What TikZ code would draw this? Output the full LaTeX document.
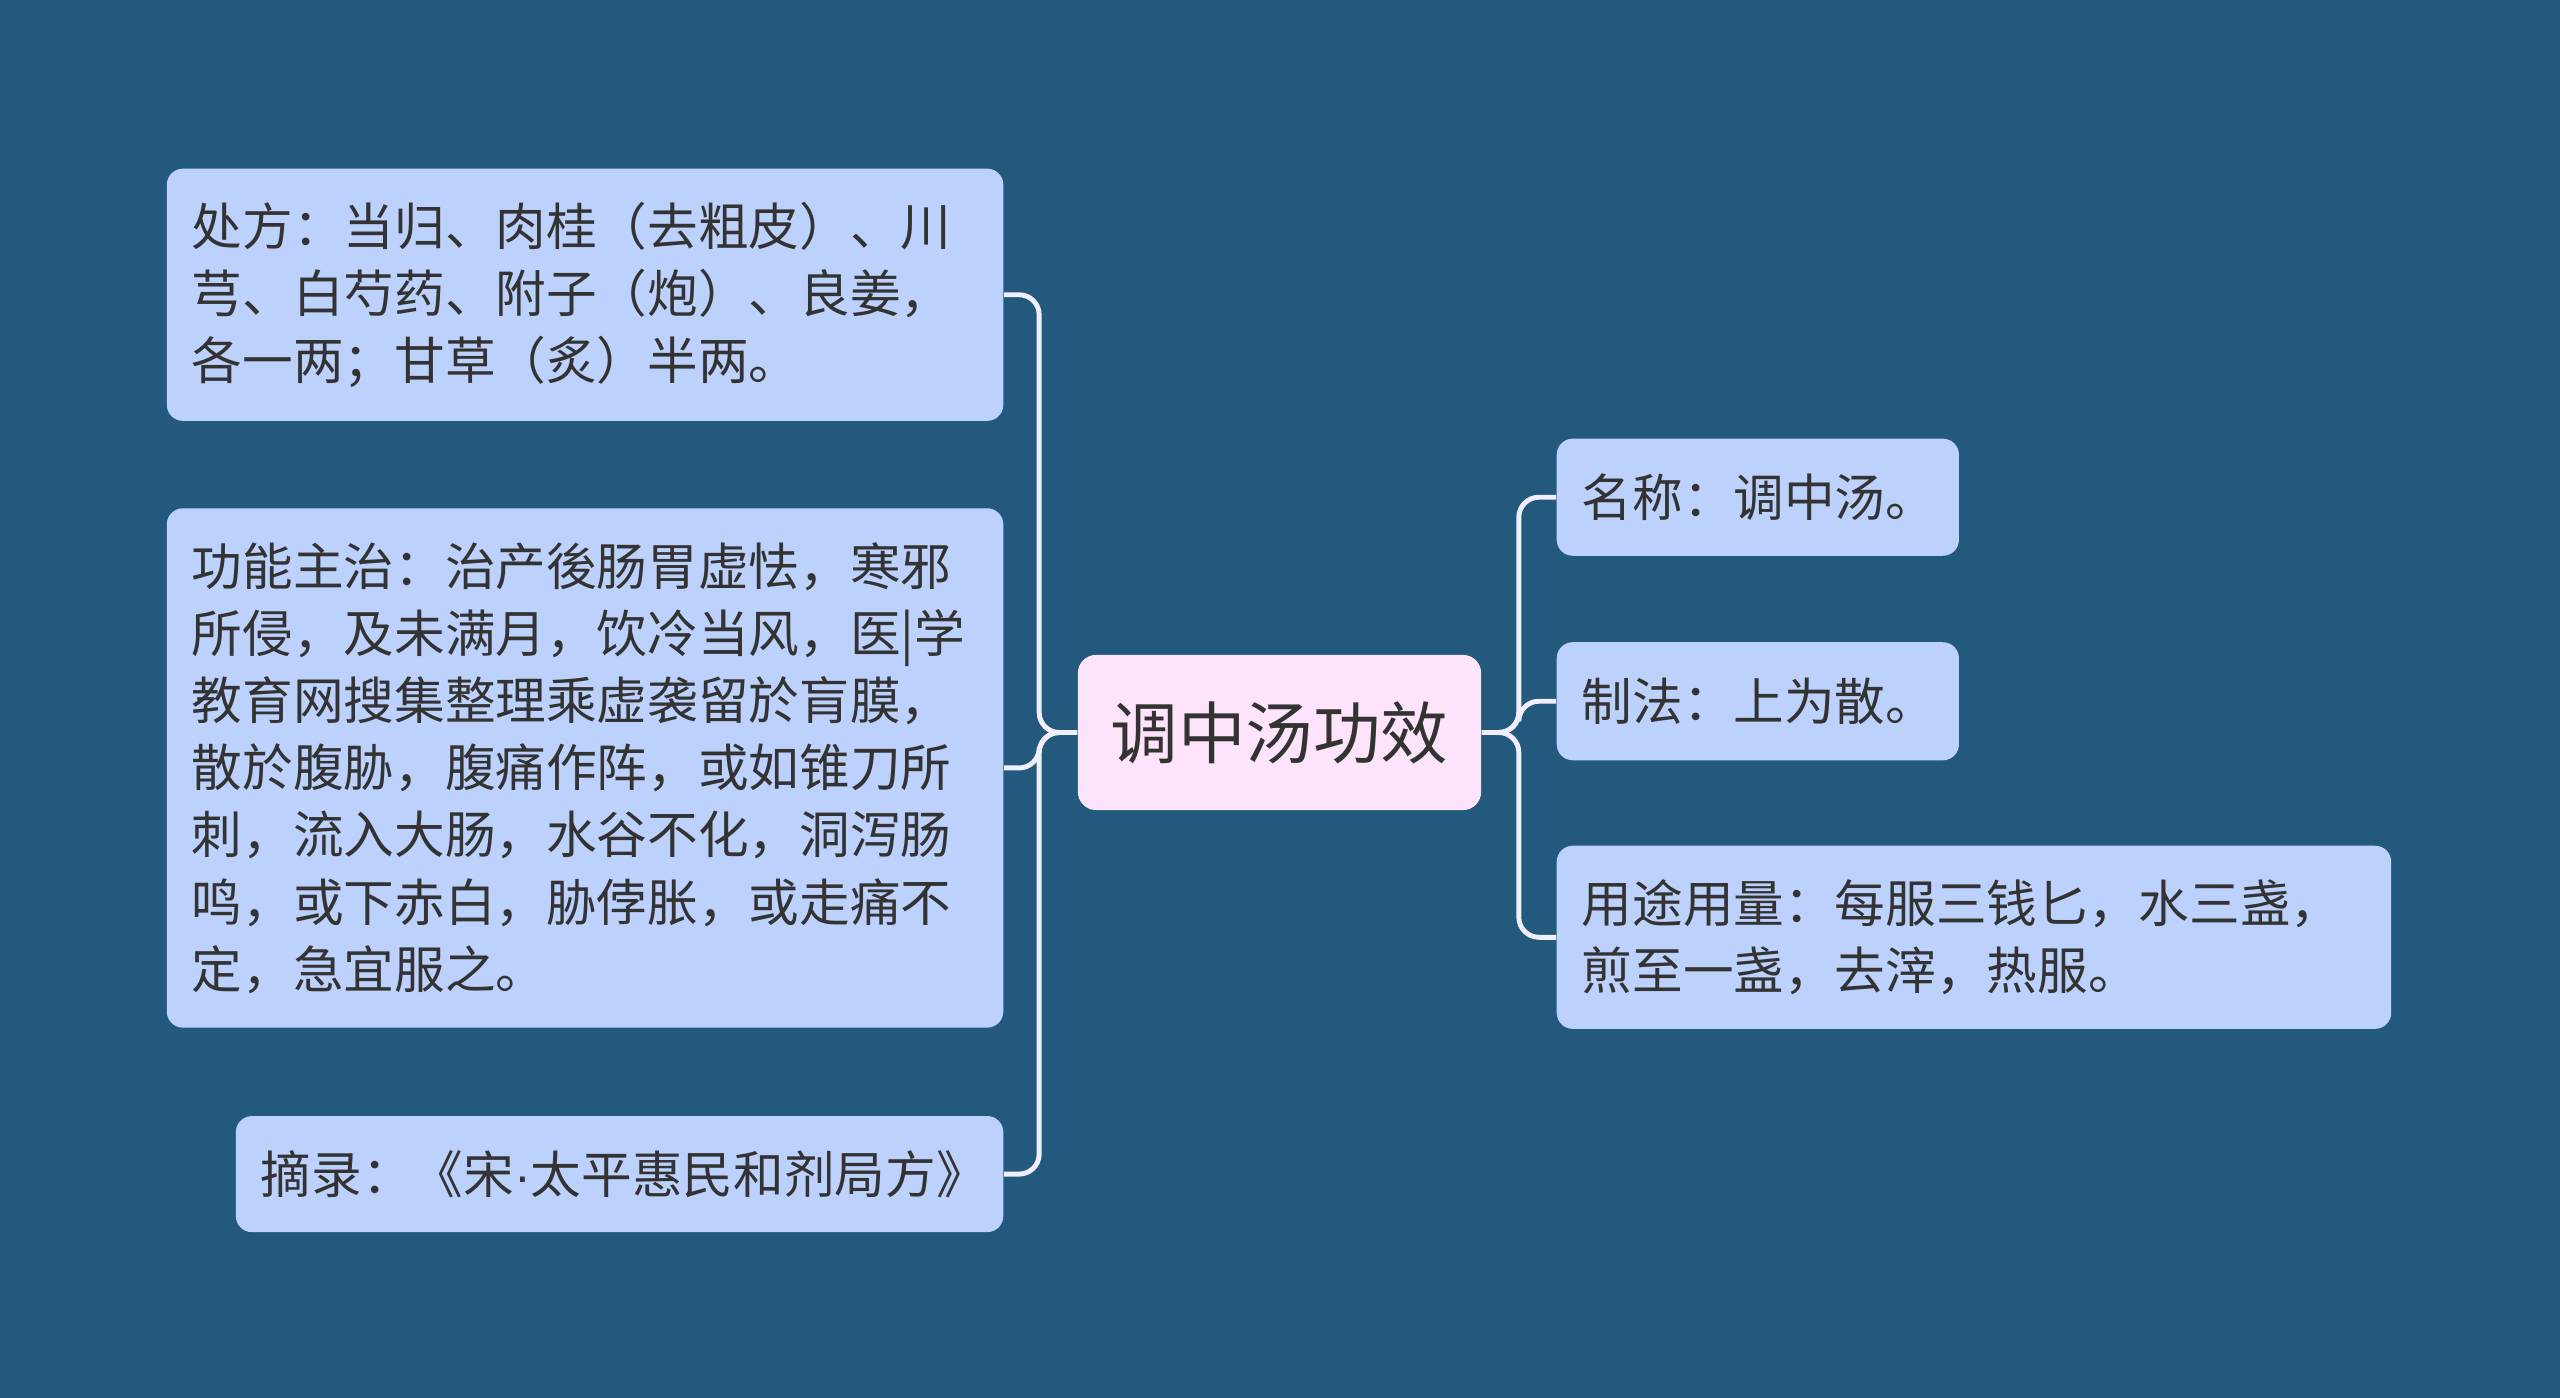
\documentclass[tikz,border=0pt]{standalone}
\usepackage{fontspec}
\newfontfamily\cjk{Noto Sans CJK SC}
\newfontfamily\latinsans{Liberation Sans}
\usetikzlibrary{positioning,calc}
\definecolor{Backdrop}{HTML}{23597C}
\definecolor{LeafFill}{HTML}{BDD1FD}
\definecolor{RootFill}{HTML}{FDE4FB}
\definecolor{Ink}{HTML}{333333}
\definecolor{Wire}{HTML}{F1EEFF}
\tikzset{
  leaf/.style={rounded corners=0.16cm, fill=LeafFill, text=Ink, inner xsep=0.25cm, inner ysep=0pt, align=left, font=\cjk\fontsize{14.4}{19.1}\selectfont},
  rootbox/.style={rounded corners=0.18cm, fill=RootFill, text=Ink, minimum width=4.03cm, minimum height=1.55cm, font=\cjk\fontsize{19.2}{23}\selectfont},
  link/.style={draw=Wire, line width=1.4pt, rounded corners=0.2cm}
}
\begin{document}
\begin{tikzpicture}[x=0.01cm,y=-0.01cm]
\fill[Backdrop] (0,0) rectangle (2560,1398);
\useasboundingbox (0,0) rectangle (2560,1398);
\node[rootbox] (root) at (1279.5,732.5) {调中汤功效};
% left side
\node[leaf,anchor=north east,text width=7.86cm,minimum height=2.52cm] (chufang) at (1004,168) {处方：当归、肉桂（去粗皮）、川\\芎、白芍药、附子（炮）、良姜，\\各一两；甘草（炙）半两。};
\node[leaf,below=0.86cm of chufang.south east,anchor=north east,text width=7.86cm,minimum height=5.19cm] (gongneng) {功能主治：治产後肠胃虚怯，寒邪\\所侵，及未满月，饮冷当风，医|学\\教育网搜集整理乘虚袭留於肓膜，\\散於腹胁，腹痛作阵，或如锥刀所\\刺，流入大肠，水谷不化，洞泻肠\\鸣，或下赤白，胁侼胀，或走痛不\\定，急宜服之。};
\node[leaf,below=0.87cm of gongneng.south east,anchor=north east,text width=7.17cm,minimum height=1.16cm] (zhailu) {摘录：《宋{\latinsans ·}太平惠民和剂局方》};
% right side
\node[leaf,anchor=north west,text width=3.52cm,minimum height=1.17cm] (mingcheng) at (1556,438) {名称：调中汤。};
\node[leaf,below=0.85cm of mingcheng.south west,anchor=north west,text width=3.52cm,minimum height=1.18cm] (zhifa) {制法：上为散。};
\node[leaf,below=0.84cm of zhifa.south west,anchor=north west,text width=7.84cm,minimum height=1.83cm] (yongtu) {用途用量：每服三钱匕，水三盏，\\煎至一盏，去滓，热服。};
\coordinate (lspine) at ($(root.west)+(-38,0)$);
\coordinate (rspine) at ($(root.east)+(37,0)$);
\foreach \n in {chufang,gongneng,zhailu}
  \draw[link] (root.west) -- (lspine) |- (\n.east);
\foreach \n in {mingcheng,zhifa,yongtu}
  \draw[link] (root.east) -- (rspine) |- (\n.west);
\end{tikzpicture}
\end{document}
